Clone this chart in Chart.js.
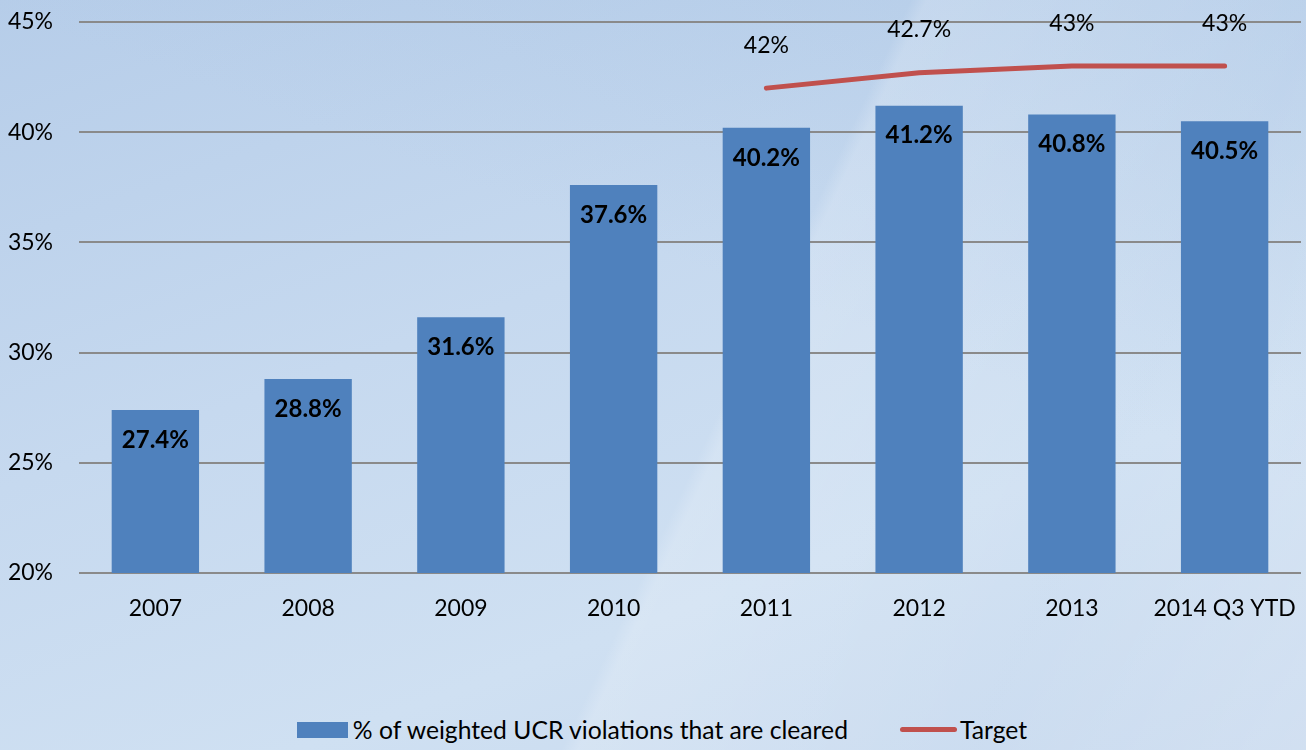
<!DOCTYPE html>
<html>
<head>
<meta charset="utf-8">
<script src="https://cdn.jsdelivr.net/npm/chart.js@4.4.0/dist/chart.umd.min.js"></script>
<style>
  html, body { margin: 0; padding: 0; }
  body {
    width: 1306px;
    height: 750px;
    overflow: hidden;
    position: relative;
    font-family: Lato, "Liberation Sans", sans-serif;
    background:
      linear-gradient(115deg, rgba(255,255,255,0) 0%, rgba(255,255,255,0) 55%, rgba(255,255,255,0.18) 56%, rgba(255,255,255,0.05) 80%, rgba(255,255,255,0.2) 100%),
      linear-gradient(200deg, rgba(160,190,225,0.35) 0%, rgba(255,255,255,0) 40%),
      linear-gradient(160deg, #b6cde9 0%, #c6d9ef 40%, #cfe0f2 70%, #c6d8ee 100%);
  }
  .chart-wrap { position: absolute; left: 0; top: 0; width: 1306px; height: 650px; }
  .legend {
    position: absolute; top: 715px; left: 9px; width: 1306px;
    display: flex; justify-content: center; align-items: center;
    font-size: 24.7px; color: #000;
  }
  .legend .item { display: flex; align-items: center; margin: 0 26px; }
  .legend .box { width: 51px; height: 16px; background: #4f81bd; margin-right: 5px; }
  .legend .line { width: 57px; height: 5px; border-radius: 3px; background: #c0504d; margin-right: 3px; }
</style>
</head>
<body>
<div class="chart-wrap"><canvas id="chart"></canvas></div>
<div class="legend">
  <div class="item"><span class="box"></span>% of weighted UCR violations that are cleared</div>
  <div class="item"><span class="line"></span>Target</div>
</div>
<script>
const categories = ['2007', '2008', '2009', '2010', '2011', '2012', '2013', '2014 Q3 YTD'];
const clearedRate = [27.4, 28.8, 31.6, 37.6, 40.2, 41.2, 40.8, 40.5];
const targetRate = [null, null, null, null, 42, 42.7, 43, 43];
const yTicks = [20, 25, 30, 35, 40, 45];

const FONT = 'Lato, "Liberation Sans", sans-serif';

// draws the value labels (bold inside bars, plain above target line)
const valueLabels = {
  id: 'valueLabels',
  afterDatasetsDraw(chart) {
    const ctx = chart.ctx;
    ctx.save();
    ctx.textAlign = 'center';
    ctx.textBaseline = 'middle';
    ctx.fillStyle = '#000';
    chart.data.datasets.forEach((ds, i) => {
      const meta = chart.getDatasetMeta(i);
      meta.data.forEach((el, j) => {
        const v = ds.data[j];
        if (v === null || v === undefined) return;
        if (ds.type === 'line') {
          ctx.font = '23px ' + FONT;
          ctx.fillText(v + '%', el.x, el.y - 43);
        } else {
          ctx.font = 'bold 24px ' + FONT;
          ctx.fillText(v.toFixed(1) + '%', el.x, el.y + 30);
        }
      });
    });
    ctx.restore();
  }
};

const ctx = document.getElementById('chart').getContext('2d');
const chart = new Chart(ctx, {
  data: {
    labels: categories,
    datasets: [
      {
        type: 'line',
        label: 'Target',
        data: targetRate,
        borderColor: '#c0504d',
        borderWidth: 5,
        borderCapStyle: 'round',
        pointRadius: 0,
        tension: 0,
        order: 0
      },
      {
        type: 'bar',
        label: '% of weighted UCR violations that are cleared',
        data: clearedRate,
        backgroundColor: '#4f81bd',
        categoryPercentage: 1,
        barPercentage: 0.572,
        order: 1
      }
    ]
  },
  options: {
    responsive: true,
    maintainAspectRatio: false,
    animation: false,
    layout: { padding: { top: 22, right: 5, left: 0, bottom: 0 } },
    plugins: {
      legend: { display: false },
      tooltip: { enabled: false }
    },
    scales: {
      x: {
        grid: { display: false },
        border: { display: false },
        ticks: { color: '#000', font: { family: FONT, size: 23 }, padding: 14, maxRotation: 0 },
        afterFit: (scale) => {
          scale.height = 77;
          scale.paddingLeft = 0;
          scale.paddingRight = 0;
        }
      },
      y: {
        min: 20,
        max: 45,
        afterBuildTicks: (scale) => { scale.ticks = yTicks.map(v => ({ value: v })); },
        grid: { color: '#8a8a8a', lineWidth: 2, drawTicks: false },
        border: { display: false },
        ticks: {
          color: '#000',
          font: { family: FONT, size: 23 },
          padding: 26,
          callback: (v) => v + '%'
        },
        afterFit: (scale) => {
          scale.width = 79;
          scale.paddingTop = 0;
          scale.paddingBottom = 0;
        }
      }
    }
  },
  plugins: [valueLabels]
});
</script>
</body>
</html>
